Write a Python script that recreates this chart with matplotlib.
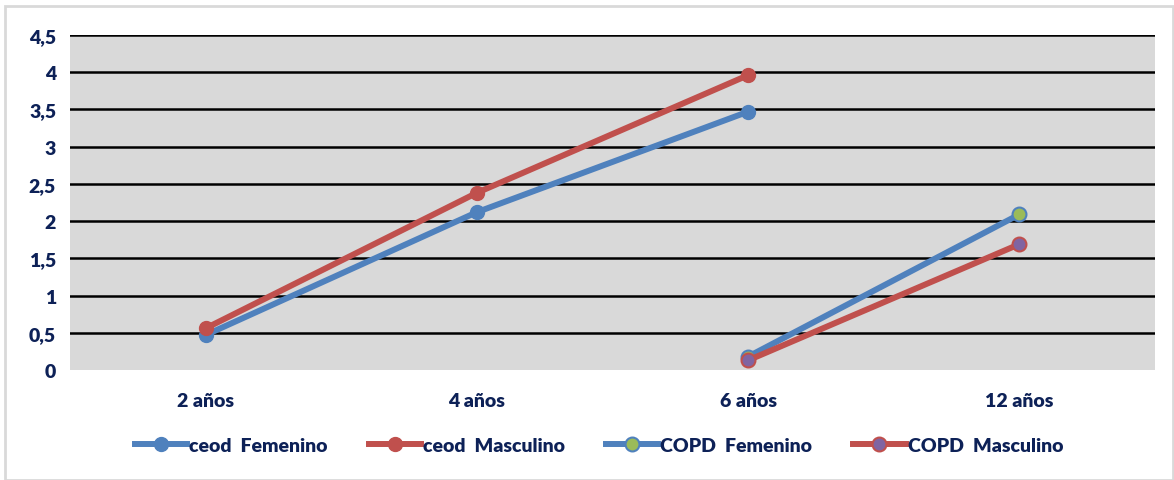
import numpy as np
import matplotlib.pyplot as plt
from matplotlib.patches import Rectangle

plt.rcParams['font.family'] = ['Lato', 'DejaVu Sans']
plt.rcParams['font.weight'] = 'heavy'

categorias = ['2 años', '4 años', '6 años', '12 años']
ceod_fem = [0.47, 2.12, 3.47, np.nan]
ceod_masc = [0.56, 2.38, 3.96, np.nan]
copd_fem = [np.nan, np.nan, 0.18, 2.09]
copd_masc = [np.nan, np.nan, 0.13, 1.69]

azul = '#4F81BD'
rojo = '#C0504D'
verde = '#9BBB59'
morado = '#8064A2'
texto = '#0D2157'

fig = plt.figure(figsize=(11.74, 4.81), dpi=100)
ax = fig.add_axes([70 / 1174, 1 - 371 / 481, 1085 / 1174, 335 / 481])
fig.patches.append(Rectangle((5 / 1174, 0), 1168 / 1174, 1 - 7 / 481, transform=fig.transFigure,
                             fill=False, edgecolor='#D9D9D9', linewidth=2))

x = np.arange(len(categorias))
ax.set_facecolor('#D9D9D9')
for yv in np.arange(0.5, 4.51, 0.5):
    ax.axhline(yv, color='black', linewidth=1.8, zorder=1)

ax.plot(x, ceod_fem, '-o', color=azul, lw=4.3, ms=10, mfc=azul, mec=azul, zorder=3, label='ceod  Femenino')
ax.plot(x, ceod_masc, '-o', color=rojo, lw=4.3, ms=10, mfc=rojo, mec=rojo, zorder=3, label='ceod  Masculino')
ax.plot(x, copd_fem, '-o', color=azul, lw=4.3, ms=10, mfc=verde, mec=azul, mew=1.5, zorder=3, label='COPD  Femenino')
ax.plot(x, copd_masc, '-o', color=rojo, lw=4.3, ms=10, mfc=morado, mec=rojo, mew=1.5, zorder=3, label='COPD  Masculino')

ax.set_xlim(-0.5, 3.5)
ax.set_ylim(0, 4.5)
ax.set_yticks(np.arange(0, 4.51, 0.5))
ax.set_yticklabels(['0', '0,5', '1', '1,5', '2', '2,5', '3', '3,5', '4', '4,5'])
ax.set_xticks(x)
ax.set_xticklabels(categorias)
ax.tick_params(length=0, labelsize=14, labelcolor=texto, pad=10)
ax.tick_params(axis='x', pad=16)
for s in ax.spines.values():
    s.set_visible(False)

fig.legend(loc='center', bbox_to_anchor=(599 / 1174, 1 - 446 / 481), ncol=4, frameon=False,
           fontsize=14, labelcolor=texto, handlelength=2.7, handletextpad=0.1, columnspacing=2.1)

plt.savefig('out.png', dpi=100)
